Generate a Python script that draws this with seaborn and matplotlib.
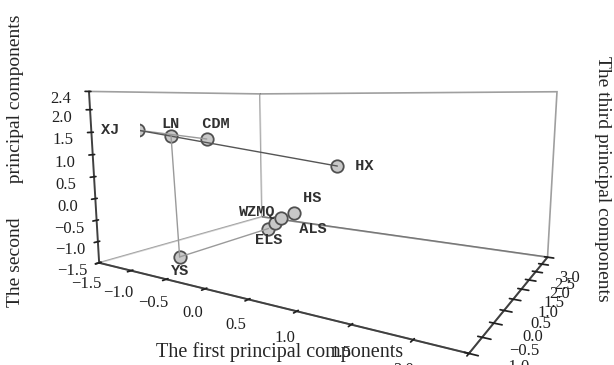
import matplotlib
matplotlib.use("Agg")
import numpy as np
import pandas as pd
import seaborn as sns
import matplotlib.pyplot as plt

# ---- data -------------------------------------------------------------
regions = ["XJ", "LN", "CDM", "HX", "YS", "WZMQ", "ELS", "ALS", "HS"]
pc1 = [-1.29, -0.95, -0.71, 0.41, -0.60, -0.44, -0.54, -0.35, -0.27]   # first principal components
pc2 = [1.52, 1.39, 1.31, 0.65, -1.20, -0.97, -1.14, -0.82, -0.70]     # second principal components
pc3 = [-0.83, -0.60, -0.15, 1.20, -1.05, 1.20, 1.20, 1.20, 1.43]      # third principal components
links = [("XJ", "CDM"), ("XJ", "HX"), ("LN", "YS"), ("YS", "ELS")]

x_ticks = [-1.5, -1.0, -0.5, 0.0, 0.5, 1.0, 1.5, 2.0, 2.4]
z_ticks = [-1.5, -1.0, -0.5, 0.0, 0.5, 1.0, 1.5, 2.0, 2.4]
y_ticks = [-1.5, -1.0, -0.5, 0.0, 0.5, 1.0, 1.5, 2.0, 2.5, 3.0]

df = pd.DataFrame({"region": regions, "pc1": pc1, "pc2": pc2, "pc3": pc3}).set_index("region")

sns.set_theme(style="white")
plt.rcParams["font.family"] = ["Liberation Serif", "DejaVu Serif"]

fig = plt.figure(figsize=(6.14, 3.65), dpi=100)
ax = fig.add_axes([0.05, 0.0, 0.95, 1.0], projection="3d",
                  proj_type="persp", focal_length=0.28)
ax.view_init(elev=8, azim=-58)
ax.set_box_aspect((8, 5.5, 3.6), zoom=1.3)

edge = "#404040"
for a in (ax.xaxis, ax.yaxis, ax.zaxis):
    a.pane.set_facecolor("white")
    a.pane.set_edgecolor(edge)
    a.pane.set_linewidth(1.2)
    a.line.set_color(edge)
    a.line.set_linewidth(1.4)
ax.grid(False)
ax.zaxis.set_ticks_position("lower")

ax.set_xlim(-1.5, 2.4)
ax.set_ylim(-1.5, 3.0)
ax.set_zlim(-1.5, 2.4)
ax.set_xticks(x_ticks)
ax.set_yticks(y_ticks)
ax.set_zticks(z_ticks)
ax.set_xticklabels([f"{v:.1f}".replace("-", "\u2212") for v in x_ticks], fontsize=12)
ax.set_yticklabels([f"{v:.1f}".replace("-", "\u2212") for v in y_ticks], fontsize=12)
ax.set_zticklabels([f"{v:.1f}".replace("-", "\u2212") for v in z_ticks], fontsize=12)
ax.tick_params(axis="both", pad=0, colors="#202020")

for a, b in links:
    col = "#555555" if (a, b) == ("XJ", "HX") else "#9a9a9a"
    ax.plot([df.loc[a, "pc1"], df.loc[b, "pc1"]],
            [df.loc[a, "pc3"], df.loc[b, "pc3"]],
            [df.loc[a, "pc2"], df.loc[b, "pc2"]], color=col, lw=1.0)

ax.scatter(df["pc1"], df["pc3"], df["pc2"], s=80, c="#c8c8c8",
           edgecolors="#505050", linewidths=1.3, depthshade=False, alpha=1)

label_style = {"XJ": ("XJ  ", "right", "center", 0.0),
               "LN": ("LN", "center", "bottom", 0.12),
               "CDM": ("  CDM", "center", "bottom", 0.18),
               "HX": ("  HX", "left", "center", 0.0),
               "YS": ("YS", "center", "top", -0.15),
               "WZMQ": ("WZMQ", "right", "bottom", 0.12),
               "ELS": ("ELS", "center", "top", -0.12),
               "ALS": ("  ALS", "left", "top", -0.1),
               "HS": (" HS", "left", "bottom", 0.2)}
for r in regions:
    txt, ha, va, dz = label_style[r]
    ax.text(df.loc[r, "pc1"], df.loc[r, "pc3"], df.loc[r, "pc2"] + dz, txt,
            family="Liberation Mono", fontsize=11, weight="bold", color="#303030",
            ha=ha, va=va)

fig.text(0.025, 0.56, "The second       principal components", rotation=90,
         fontsize=14, ha="center", va="center")
fig.text(0.456, 0.036, "The first principal components", fontsize=14.5,
         ha="center", va="center")
fig.text(0.982, 0.51, "The third principal components", rotation=-90,
         fontsize=14, ha="center", va="center")

fig.savefig("out.png", dpi=100)
